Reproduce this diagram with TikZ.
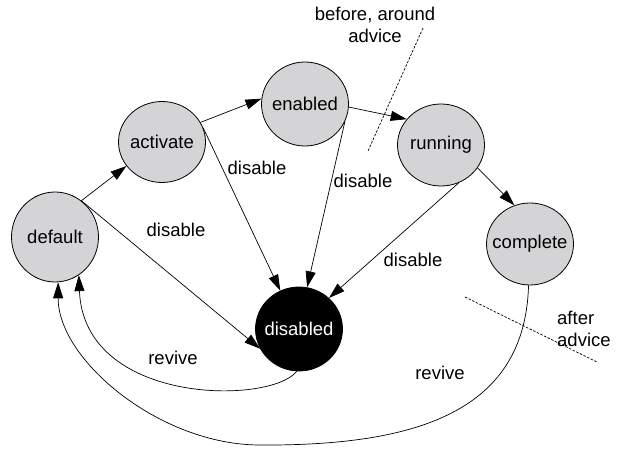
\documentclass[tikz,border=0pt]{standalone}
\usepackage{fontspec}
\setmainfont{Liberation Sans}
\usetikzlibrary{shapes.geometric,arrows.meta}
\definecolor{nodefill}{RGB}{212,212,214}
\newcommand\nodetxt[1]{\makebox[0pt]{#1}}
\begin{document}
\begin{tikzpicture}[x=1pt,y=-1pt,
  font=\fontsize{18.5}{22}\selectfont,
  state/.style={ellipse,draw=black,line width=0.8pt,fill=nodefill,minimum width=87pt,minimum height=84pt,inner sep=0pt},
  dead/.style={state,fill=black,text=white},
  conn/.style={draw,line width=0.7pt,-{Triangle[length=16pt,width=10pt]}},
  lbl/.style={inner sep=0pt},
  sep/.style={line width=0.7pt,dash pattern=on 2.5pt off 1.5pt}]
\useasboundingbox (0,0) rectangle (623,449);

\node[state,minimum height=90pt] (default) at (55,237) {\nodetxt{default}};
\node[state,minimum height=81pt] (activate) at (162,142) {\nodetxt{activate}};
\node[state] (enabled) at (305,104) {\nodetxt{enabled}};
\node[state,minimum height=82pt] (running) at (441,145) {\nodetxt{running}};
\node[state,minimum height=82pt] (complete) at (530,244) {\nodetxt{complete}};
\node[dead] (disabled) at (299,329) {\nodetxt{disabled}};

\draw[conn] (default.54) -- (activate.214);
\draw[conn] (activate.27) -- (enabled.173);
\draw[conn] (enabled.-4) -- (running.143);
\draw[conn] (running.-32) -- (complete.112);
\draw[conn] (default.54) -- (disabled.207);
\draw[conn] (activate.19) -- (disabled.116);
\draw[conn] (enabled.-24) -- (disabled.79);
\draw[conn] (running.-65) -- (disabled.46);

\draw[conn] (disabled.-93) .. controls (270,405) and (84,405) .. (default.-58);
\draw[conn] (complete.-92) .. controls (525,410) and (420,446) .. (260,445)
  .. controls (160,445) and (58,360) .. (default.-86);

\node[lbl] (l1) at (176,230) {disable};
\node[lbl] (l2) at (257,168) {disable};
\node[lbl] (l3) at (363,181) {disable};
\node[lbl] (l4) at (413,260) {disable};
\node[lbl] (l5) at (173,358) {revive};
\node[lbl] (l6) at (440,373) {revive};
\node[lbl,align=left,anchor=west] (l7) at (557,329) {after\\advice};
\node[lbl,align=center] (l8) at (375,25) {before, around\\advice};

\coordinate (s1a) at (423,28);
\coordinate (s1b) at (368,151);
\coordinate (s2a) at (465,297);
\coordinate (s2b) at (597,362);
\draw[sep] (s1a) -- (s1b);
\draw[sep] (s2a) -- (s2b);
\end{tikzpicture}
\end{document}
